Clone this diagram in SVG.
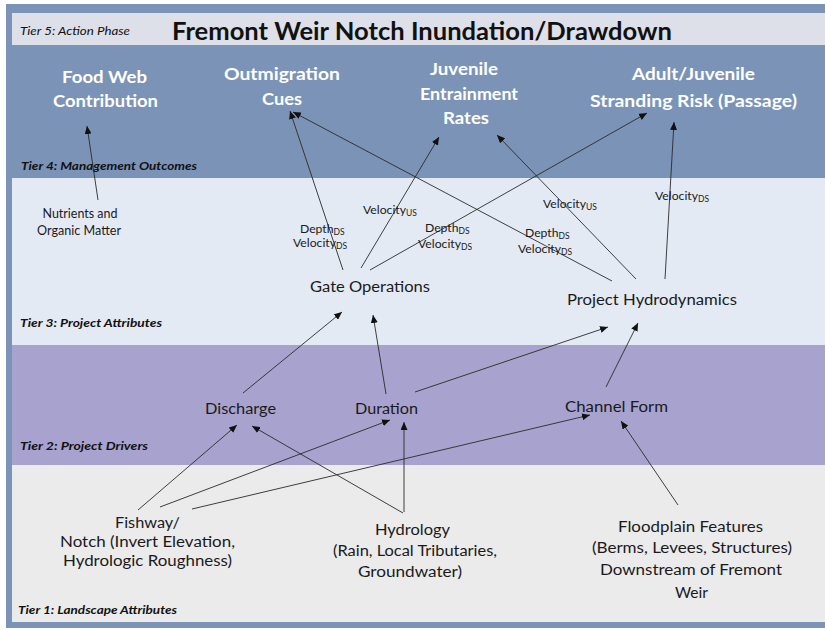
<svg xmlns="http://www.w3.org/2000/svg" width="825" height="630" viewBox="0 0 825 630">
<defs>
<marker id="ah" markerUnits="userSpaceOnUse" markerWidth="9" markerHeight="7" refX="8" refY="3.5" orient="auto">
<path d="M0,0 L8,3.5 L0,7 z" fill="#111"/>
</marker>
</defs>
<style>
.t4{font-family:Lato,"Liberation Sans",sans-serif;font-weight:bold;font-size:17px;fill:#ffffff;text-anchor:middle}
.tier{font-family:Lato,"Liberation Sans",sans-serif;font-style:italic;font-weight:bold;font-size:11px;fill:#111}
.n{font-family:Lato,"Liberation Sans",sans-serif;font-size:15.5px;fill:#1a1a1a;text-anchor:middle}
.sm{font-family:Lato,"Liberation Sans",sans-serif;font-size:13px;fill:#1a1a1a;text-anchor:middle}
.v{font-family:Lato,"Liberation Sans",sans-serif;font-size:12.2px;fill:#1a1a1a}
.sub{font-size:8.5px}
.e{stroke:#2a2a2a;stroke-width:0.9;fill:none;marker-end:url(#ah)}
</style>
<rect x="0" y="0" width="825" height="630" fill="#ffffff"/>
<rect x="6" y="4" width="819" height="624" fill="#7b93b6"/>
<rect x="12" y="13" width="813" height="32" fill="#dde0e8"/>
<rect x="12" y="178" width="813" height="167" fill="#e4eaf4"/>
<rect x="12" y="345" width="813" height="120" fill="#a8a2cf"/>
<rect x="12" y="465" width="813" height="157" fill="#ebebeb"/>

<text x="20" y="35" font-family="Lato,'Liberation Sans',sans-serif" font-style="italic" font-size="10.5" fill="#111" textLength="110" lengthAdjust="spacingAndGlyphs">Tier 5: Action Phase</text>
<text x="172" y="40" font-family="Lato,'Liberation Sans',sans-serif" font-weight="bold" font-size="25" fill="#111" textLength="500" lengthAdjust="spacingAndGlyphs">Fremont Weir Notch Inundation/Drawdown</text>
<text class="tier" x="21" y="170" textLength="176" lengthAdjust="spacingAndGlyphs">Tier 4: Management Outcomes</text>
<text class="tier" x="20" y="327" textLength="142" lengthAdjust="spacingAndGlyphs">Tier 3: Project  Attributes</text>
<text class="tier" x="20" y="450" textLength="128" lengthAdjust="spacingAndGlyphs">Tier 2: Project  Drivers</text>
<text class="tier" x="18" y="614" textLength="159" lengthAdjust="spacingAndGlyphs">Tier 1: Landscape Attributes</text>

<g id="connectors">
<line class="e" x1="98" y1="200" x2="87" y2="126"/>
<line class="e" x1="343" y1="270" x2="290" y2="111"/>
<line class="e" x1="612" y1="281" x2="293" y2="112"/>
<line class="e" x1="361" y1="268" x2="439" y2="137"/>
<line class="e" x1="370" y1="270" x2="647" y2="113"/>
<line class="e" x1="636" y1="279" x2="497" y2="135"/>
<line class="e" x1="665" y1="279" x2="674" y2="122"/>
<line class="e" x1="243" y1="393" x2="342" y2="312"/>
<line class="e" x1="386" y1="394" x2="373" y2="315"/>
<line class="e" x1="415" y1="392" x2="608" y2="327"/>
<line class="e" x1="606" y1="387" x2="638" y2="323"/>
<line class="e" x1="138" y1="510" x2="237" y2="425"/>
<line class="e" x1="160" y1="507" x2="390" y2="420"/>
<line class="e" x1="192" y1="509" x2="590" y2="415"/>
<line class="e" x1="403" y1="513" x2="252" y2="426"/>
<line class="e" x1="404" y1="512" x2="404" y2="422"/>
<line class="e" x1="678" y1="505" x2="621" y2="421"/>
</g>

<g id="edge-labels">
<text class="v" x="300" y="233">Depth<tspan class="sub" dy="2">DS</tspan></text>
<text class="v" x="293" y="247">Velocity<tspan class="sub" dy="2">DS</tspan></text>
<text class="v" x="363" y="214">Velocity<tspan class="sub" dy="2">US</tspan></text>
<text class="v" x="425" y="232">Depth<tspan class="sub" dy="2">DS</tspan></text>
<text class="v" x="418" y="248">Velocity<tspan class="sub" dy="2">DS</tspan></text>
<text class="v" x="543" y="208">Velocity<tspan class="sub" dy="2">US</tspan></text>
<text class="v" x="525" y="237">Depth<tspan class="sub" dy="2">DS</tspan></text>
<text class="v" x="518" y="253">Velocity<tspan class="sub" dy="2">DS</tspan></text>
<text class="v" x="655" y="200">Velocity<tspan class="sub" dy="2">DS</tspan></text>
</g>

<g id="food-web">
<text class="t4" x="104.5" y="83" textLength="85" lengthAdjust="spacingAndGlyphs">Food Web</text>
<text class="t4" x="105.5" y="107" textLength="105" lengthAdjust="spacingAndGlyphs">Contribution</text>
</g>
<g id="outmigration-cues">
<text class="t4" x="282" y="80" textLength="116" lengthAdjust="spacingAndGlyphs">Outmigration</text>
<text class="t4" x="282" y="105" textLength="40" lengthAdjust="spacingAndGlyphs">Cues</text>
</g>
<g id="juvenile-entrainment">
<text class="t4" x="464" y="75" textLength="68" lengthAdjust="spacingAndGlyphs">Juvenile</text>
<text class="t4" x="469" y="100" textLength="98" lengthAdjust="spacingAndGlyphs">Entrainment</text>
<text class="t4" x="466" y="124" textLength="46" lengthAdjust="spacingAndGlyphs">Rates</text>
</g>
<g id="stranding-risk">
<text class="t4" x="693.5" y="80" textLength="123" lengthAdjust="spacingAndGlyphs">Adult/Juvenile</text>
<text class="t4" x="693.5" y="107" textLength="207" lengthAdjust="spacingAndGlyphs">Stranding Risk (Passage)</text>
</g>

<g id="nutrients">
<text class="sm" x="80" y="218" textLength="75" lengthAdjust="spacingAndGlyphs">Nutrients and</text>
<text class="sm" x="79" y="235" textLength="84" lengthAdjust="spacingAndGlyphs">Organic Matter</text>
</g>
<g id="gate-operations">
<text class="n" x="370" y="292" textLength="120" lengthAdjust="spacingAndGlyphs">Gate Operations</text>
</g>
<g id="project-hydrodynamics">
<text class="n" x="652" y="305" textLength="170" lengthAdjust="spacingAndGlyphs">Project Hydrodynamics</text>
</g>

<g id="discharge">
<text class="n" x="240.5" y="414" textLength="71" lengthAdjust="spacingAndGlyphs">Discharge</text>
</g>
<g id="duration">
<text class="n" x="386.5" y="414" textLength="63" lengthAdjust="spacingAndGlyphs">Duration</text>
</g>
<g id="channel-form">
<text class="n" x="616.5" y="412" textLength="103" lengthAdjust="spacingAndGlyphs">Channel Form</text>
</g>

<g id="fishway-notch">
<text class="n" x="147.5" y="528" textLength="65" lengthAdjust="spacingAndGlyphs">Fishway/</text>
<text class="n" x="147.5" y="547" textLength="175" lengthAdjust="spacingAndGlyphs">Notch (Invert Elevation,</text>
<text class="n" x="147.5" y="566" textLength="169" lengthAdjust="spacingAndGlyphs">Hydrologic Roughness)</text>
</g>
<g id="hydrology">
<text class="n" x="412.5" y="535" textLength="75" lengthAdjust="spacingAndGlyphs">Hydrology</text>
<text class="n" x="415" y="556" textLength="164" lengthAdjust="spacingAndGlyphs">(Rain, Local Tributaries,</text>
<text class="n" x="410" y="577" textLength="104" lengthAdjust="spacingAndGlyphs">Groundwater)</text>
</g>
<g id="floodplain-features">
<text class="n" x="690.5" y="532" textLength="145" lengthAdjust="spacingAndGlyphs">Floodplain Features</text>
<text class="n" x="692" y="553" textLength="200" lengthAdjust="spacingAndGlyphs">(Berms, Levees, Structures)</text>
<text class="n" x="691" y="575" textLength="182" lengthAdjust="spacingAndGlyphs">Downstream of Fremont</text>
<text class="n" x="691.5" y="598" textLength="33" lengthAdjust="spacingAndGlyphs">Weir</text>
</g>
</svg>
